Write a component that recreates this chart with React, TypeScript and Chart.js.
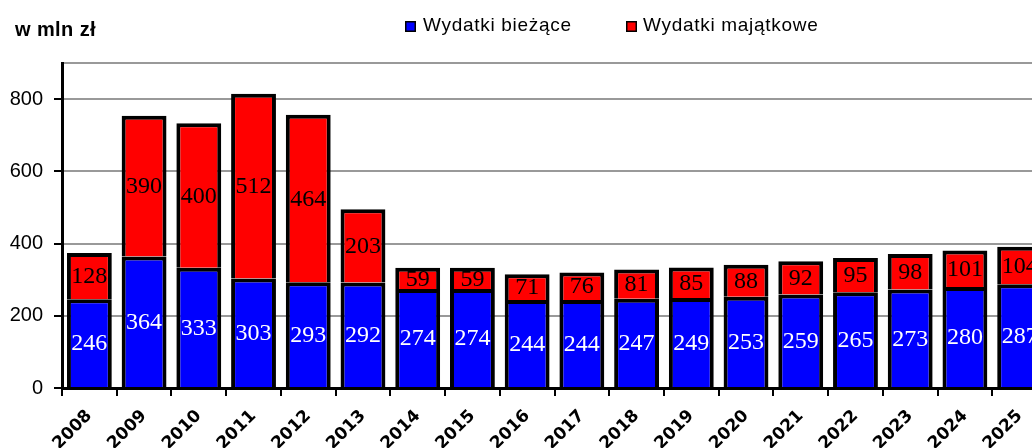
import React, { useEffect, useRef } from "react";
import { Chart, registerables } from "chart.js";

Chart.register(...registerables);

const years = [
  "2008", "2009", "2010", "2011", "2012", "2013", "2014", "2015", "2016",
  "2017", "2018", "2019", "2020", "2021", "2022", "2023", "2024", "2025",
];
const currentExpenses = [246, 364, 333, 303, 293, 292, 274, 274, 244, 244, 247, 249, 253, 259, 265, 273, 280, 287];
const capitalExpenses = [128, 390, 400, 512, 464, 203, 59, 59, 71, 76, 81, 85, 88, 92, 95, 98, 101, 104];
const seriesNames = ["Wydatki bieżące", "Wydatki majątkowe"];
const seriesColors = ["#0000ff", "#ff0000"];
const labelColors = ["#ffffff", "#000000"];
const unitLabel = "w mln zł";
const yTickValues = [0, 200, 400, 600, 800];
const yMax = 900;

const CANVAS_W = 1047;
const CANVAS_H = 470;

const valueLabelsPlugin = {
  id: "valueLabels",
  afterDatasetsDraw(chart: any) {
    const ctx = chart.ctx;
    chart.data.datasets.forEach((ds: any, i: number) => {
      const meta = chart.getDatasetMeta(i);
      meta.data.forEach((bar: any, j: number) => {
        const p = bar.getProps(["x", "y", "base"], true);
        ctx.save();
        ctx.font = "24px 'Liberation Serif', serif";
        ctx.fillStyle = labelColors[i];
        ctx.textAlign = "center";
        ctx.textBaseline = "middle";
        ctx.fillText(String(ds.data[j]), p.x, (p.y + p.base) / 2 + 1);
        ctx.restore();
      });
    });
  },
};

const headerPlugin = {
  id: "header",
  afterDraw(chart: any) {
    const ctx = chart.ctx;
    ctx.save();
    // unit label
    ctx.font = "bold 20px 'Liberation Sans', Arial, sans-serif";
    (ctx as any).letterSpacing = "0.4px";
    ctx.fillStyle = "#000";
    ctx.textAlign = "left";
    ctx.textBaseline = "middle";
    ctx.fillText(unitLabel, 15, 30);
    // legend
    const items = [
      { box: 405, text: 423 },
      { box: 626, text: 643 },
    ];
    chart.data.datasets.forEach((ds: any, i: number) => {
      const it = items[i];
      ctx.fillStyle = "#000";
      ctx.fillRect(it.box, 21, 11, 11);
      ctx.fillStyle = ds.backgroundColor;
      ctx.fillRect(it.box + 1.5, 22.5, 8, 8);
      ctx.fillStyle = "#000";
      ctx.font = "19px 'Liberation Sans', Arial, sans-serif";
      (ctx as any).letterSpacing = "0.7px";
      ctx.textBaseline = "middle";
      ctx.fillText(ds.label, it.text, 26);
    });
    ctx.restore();
  },
};

export default function App() {
  const ref = useRef<HTMLCanvasElement | null>(null);

  useEffect(() => {
    if (!ref.current) return;
    const chart = new Chart(ref.current, {
      type: "bar",
      data: {
        labels: years,
        datasets: [
          {
            label: seriesNames[0],
            data: currentExpenses,
            backgroundColor: seriesColors[0],
            borderColor: "#000",
            borderWidth: 4,
            barPercentage: 0.82,
            categoryPercentage: 1,
          },
          {
            label: seriesNames[1],
            data: capitalExpenses,
            backgroundColor: seriesColors[1],
            borderColor: "#000",
            borderWidth: 4,
            barPercentage: 0.82,
            categoryPercentage: 1,
          },
        ],
      },
      options: {
        animation: false,
        responsive: false,
        devicePixelRatio: 1,
        layout: { padding: { top: 63, left: 0, right: 0, bottom: 0 } },
        plugins: {
          legend: { display: false },
          tooltip: { enabled: false },
        },
        scales: {
          x: {
            stacked: true,
            afterFit: (scale: any) => {
              scale.height = CANVAS_H - 388;
            },
            grid: {
              offset: true,
              drawOnChartArea: false,
              drawTicks: true,
              tickLength: 8,
              tickColor: "#000",
              lineWidth: 2,
            },
            border: { color: "#000", width: 3 },
            ticks: {
              autoSkip: false,
              maxRotation: 45,
              minRotation: 45,
              padding: 10,
              color: "#000",
              font: { family: "'DejaVu Sans', sans-serif", weight: "bold", size: 17 },
            },
          },
          y: {
            stacked: true,
            min: 0,
            max: yMax,
            afterFit: (scale: any) => {
              scale.width = 62;
            },
            grid: {
              color: "#999999",
              lineWidth: 2,
              tickLength: 8,
              tickWidth: 2,
              tickColor: (c: any) =>
                c.tick && yTickValues.includes(c.tick.value) ? "#000" : "rgba(0,0,0,0)",
            },
            border: { color: "#000", width: 3 },
            ticks: {
              stepSize: 200,
              padding: 11,
              color: "#000",
              font: { family: "'Liberation Sans', Arial, sans-serif", size: 20 },
              callback: (v: any) => (yTickValues.includes(Number(v)) ? String(v) : ""),
            },
          },
        },
      },
      plugins: [valueLabelsPlugin, headerPlugin],
    } as any);
    return () => chart.destroy();
  }, []);

  return (
    <div
      style={{
        position: "fixed",
        left: 0,
        top: 0,
        width: 1032,
        height: 448,
        overflow: "hidden",
        background: "#fff",
      }}
    >
      <canvas ref={ref} width={CANVAS_W} height={CANVAS_H} style={{ display: "block" }} />
    </div>
  );
}
